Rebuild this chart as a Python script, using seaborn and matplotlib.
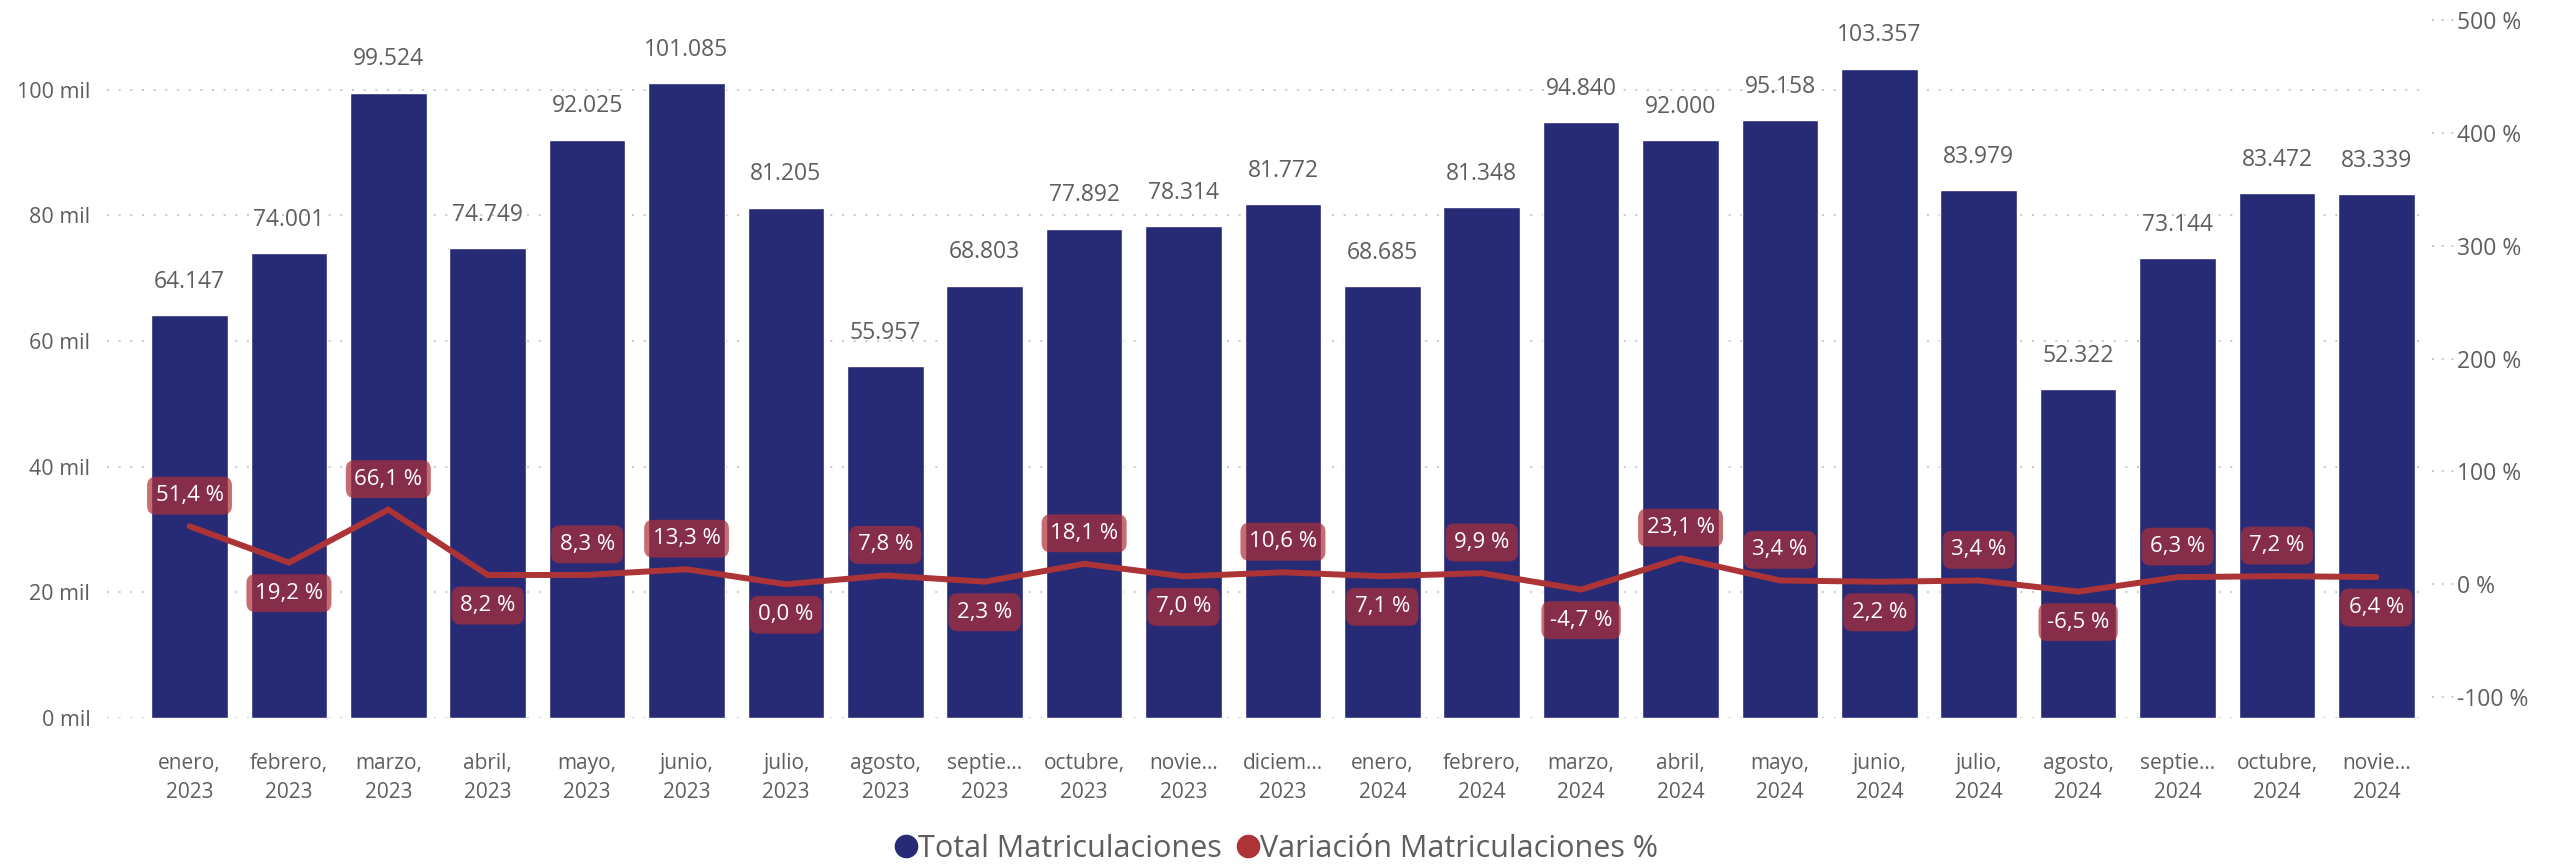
import matplotlib
matplotlib.use("Agg")
import matplotlib.pyplot as plt
from matplotlib.lines import Line2D
import seaborn as sns
import pandas as pd
import numpy as np

months = ["enero,\n2023", "febrero,\n2023", "marzo,\n2023", "abril,\n2023", "mayo,\n2023",
          "junio,\n2023", "julio,\n2023", "agosto,\n2023", "septie...\n2023", "octubre,\n2023",
          "novie...\n2023", "diciem...\n2023", "enero,\n2024", "febrero,\n2024", "marzo,\n2024",
          "abril,\n2024", "mayo,\n2024", "junio,\n2024", "julio,\n2024", "agosto,\n2024",
          "septie...\n2024", "octubre,\n2024", "novie...\n2024"]
totals = [64147, 74001, 99524, 74749, 92025, 101085, 81205, 55957, 68803, 77892, 78314, 81772,
          68685, 81348, 94840, 92000, 95158, 103357, 83979, 52322, 73144, 83472, 83339]
variation = [51.4, 19.2, 66.1, 8.2, 8.3, 13.3, 0.0, 7.8, 2.3, 18.1, 7.0, 10.6,
             7.1, 9.9, -4.7, 23.1, 3.4, 2.2, 3.4, -6.5, 6.3, 7.2, 6.4]
label_side = [1, -1, 1, -1, 1, 1, -1, 1, -1, 1, -1, 1,
              -1, 1, -1, 1, 1, -1, 1, -1, 1, 1, -1]
left_ticks = [0, 20000, 40000, 60000, 80000, 100000]
right_ticks = [-100, 0, 100, 200, 300, 400, 500]

NAVY = "#272A75"
RED = "#AD3436"
GRAY = "#605E5C"

sns.set_theme(style="white")
plt.rcParams["font.family"] = ["Open Sans", "DejaVu Sans"]

fig = plt.figure(figsize=(25.73, 8.66), dpi=100)
ax = fig.add_axes([0.0416, 0.171, 0.9009, 0.806])

df = pd.DataFrame({"mes": months, "total": totals, "var": variation})
sns.barplot(data=df, x="mes", y="total", color=NAVY, saturation=1, width=0.77, ax=ax)
ax.set_ylim(0, 111100)
ax.set_yticks(left_ticks)
ax.set_yticklabels([f"{v // 1000} mil" for v in left_ticks])
ax.yaxis.grid(True, linestyle=(0, (1, 5)), color="#C8C8C8", linewidth=1.4)
ax.set_axisbelow(True)
ax.set_xlabel("")
ax.set_ylabel("")
ax.tick_params(axis="y", length=0, pad=12, labelsize=15.5, labelcolor=GRAY)
ax.tick_params(axis="x", length=0, pad=25, labelsize=15, labelcolor=GRAY)
for lbl in ax.get_xticklabels():
    lbl.set_linespacing(1.55)
for s in ax.spines.values():
    s.set_visible(False)

for i, v in enumerate(totals):
    ax.annotate(f"{v:,}".replace(",", "."), (i, v), xytext=(0, 24), textcoords="offset points",
                ha="center", va="center", fontsize=16.5, color=GRAY)

ax2 = ax.twinx()
x = np.arange(len(variation))
sns.lineplot(x=x, y=variation, ax=ax2, color=RED, linewidth=4.3, solid_capstyle="round",
             solid_joinstyle="miter")
ax2.set_ylim(-118.4, 498.5)
ax2.set_yticks(right_ticks)
ax2.set_yticklabels([f"{v} %" for v in right_ticks])
ax2.tick_params(axis="y", length=0, pad=23, labelsize=16.5, labelcolor=GRAY)
ax2.grid(False)
ax2.set_ylabel("")
for s in ax2.spines.values():
    s.set_visible(False)
ax2.hlines(right_ticks, 1.003, 1.013, transform=ax2.get_yaxis_transform(),
           linestyles=[(0, (1, 4))], colors="#C8C8C8", linewidth=1.4, clip_on=False)

for i, (v, side) in enumerate(zip(variation, label_side)):
    ax2.annotate(f"{v:.1f}".replace(".", ",") + " %", (i, v), xytext=(0, 22 * side),
                 textcoords="offset points", ha="center", va="center", fontsize=16,
                 color="white",
                 bbox=dict(boxstyle="round,pad=0.38,rounding_size=0.4", fc="#AF2F38",
                           ec="none", alpha=0.7))

ax.set_xlim(-0.83, 22.49)
ax2.set_xlim(-0.83, 22.49)

handles = [Line2D([], [], marker="o", linestyle="", color=NAVY, markersize=16),
           Line2D([], [], marker="o", linestyle="", color=RED, markersize=16)]
fig.legend(handles, ["Total Matriculaciones", "Variación Matriculaciones %"], loc="center",
           bbox_to_anchor=(0.496, 0.02), ncol=2, frameon=False, fontsize=22,
           handlelength=0.8, handletextpad=0.0, columnspacing=0.45, labelcolor=GRAY)

fig.savefig("out.png", dpi=100)
